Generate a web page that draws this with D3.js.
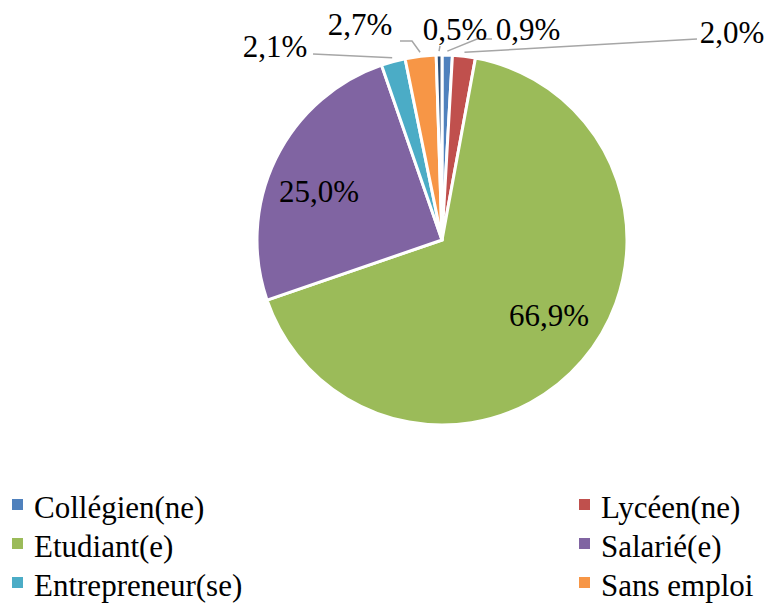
<!DOCTYPE html>
<html>
<head>
<meta charset="utf-8">
<script src="https://cdn.jsdelivr.net/npm/d3@7"></script>
<style>
  body { margin: 0; background: #fff; }
</style>
</head>
<body>
<svg id="chart"></svg>
<script>
const width = 771;
const height = 604;

// data
const categories = ["Collégien(ne)", "Lycéen(ne)", "Etudiant(e)", "Salarié(e)", "Entrepreneur(se)", "Sans emploi", "Autre"];
const values = [0.9, 2.0, 66.9, 25.0, 2.1, 2.7, 0.5];
const colors = ["#4F81BD", "#C0504D", "#9BBB59", "#8064A2", "#4BACC6", "#F79646", "#2C4D75"];
const legendCount = 6; // last item is cut off in the original legend

// label placement (text centre x, baseline y) and leader elbows, per slice
const labelPos = [[528, 40], [732, 43], [549, 326], [319, 202], [275, 57], [360, 35], [455, 40]];
const leaders = [
  [[477, 39], [492, 39]],
  [[697, 39]],
  null,
  null,
  [[313, 54]],
  [[412, 41], [400, 41]],
  [[440, 46]]
];

const cx = 442, cy = 240, r = 185;
const serif = "'Liberation Serif', 'Times New Roman', Times, serif";

const svg = d3.select("#chart")
  .attr("width", width)
  .attr("height", height)
  .style("display", "block");

const fr = d3.formatLocale({ decimal: ",", thousands: " ", grouping: [3], currency: ["", " €"] });
const fmt = fr.format(".1f");

const data = categories.map((c, i) => ({ name: c, value: values[i], color: colors[i] }));

const pie = d3.pie().value(d => d.value).sort(null);
const arcs = pie(data);
const arc = d3.arc().innerRadius(0).outerRadius(r);

const g = svg.append("g").attr("transform", `translate(${cx},${cy})`);

g.selectAll("path.slice")
  .data(arcs)
  .enter().append("path")
  .attr("class", "slice")
  .attr("d", arc)
  .attr("fill", d => d.data.color)
  .attr("stroke", "#fff")
  .attr("stroke-width", 3)
  .attr("stroke-linejoin", "miter");

// leader lines
const line = d3.line();
svg.selectAll("path.leader")
  .data(arcs.filter((d, i) => leaders[i]))
  .enter().append("path")
  .attr("class", "leader")
  .attr("d", d => {
    const i = d.index;
    const mid = (d.startAngle + d.endAngle) / 2;
    const p0 = [cx + (r + 4) * Math.sin(mid), cy - (r + 4) * Math.cos(mid)];
    return line([p0].concat(leaders[i]));
  })
  .attr("fill", "none")
  .attr("stroke", "#A6A6A6")
  .attr("stroke-width", 1.5);

// percentage labels
svg.selectAll("text.lbl")
  .data(arcs)
  .enter().append("text")
  .attr("class", "lbl")
  .attr("x", d => labelPos[d.index][0])
  .attr("y", d => labelPos[d.index][1])
  .attr("text-anchor", "middle")
  .attr("font-family", serif)
  .attr("font-size", 31)
  .attr("fill", "#000")
  .text(d => fmt(d.value) + "%");

// legend
const legend = svg.append("g");
const item = legend.selectAll("g")
  .data(data.slice(0, legendCount))
  .enter().append("g")
  .attr("transform", (d, i) => `translate(${12 + (i % 2) * 567},${518 + Math.floor(i / 2) * 39})`);

item.append("rect")
  .attr("x", 0)
  .attr("y", -19)
  .attr("width", 11)
  .attr("height", 11)
  .attr("fill", d => d.color);

item.append("text")
  .attr("x", 22)
  .attr("y", 0)
  .attr("font-family", serif)
  .attr("font-size", 31)
  .attr("fill", "#000")
  .text(d => d.name);
</script>
</body>
</html>
